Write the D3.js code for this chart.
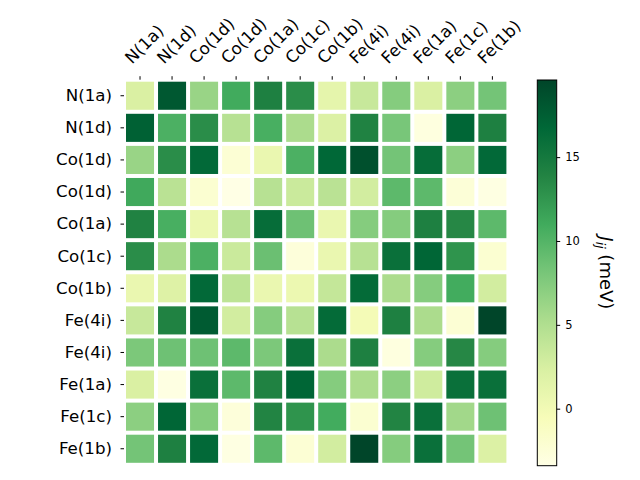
<!DOCTYPE html>
<html>
<head>
<meta charset="utf-8">
<script src="https://cdn.jsdelivr.net/npm/d3@7"></script>
<style>
  body { margin: 0; background: white; }
  text { font-family: "DejaVu Sans", sans-serif; }
</style>
</head>
<body>
<div id="chart"></div>
<script>
// Site labels (rows and columns share the same order)
const rowLabels = ["N(1a)", "N(1d)", "Co(1d)", "Co(1d)", "Co(1a)", "Co(1c)", "Co(1b)", "Fe(4i)", "Fe(4i)", "Fe(1a)", "Fe(1c)", "Fe(1b)"];
const colLabels = ["N(1a)", "N(1d)", "Co(1d)", "Co(1d)", "Co(1a)", "Co(1c)", "Co(1b)", "Fe(4i)", "Fe(4i)", "Fe(1a)", "Fe(1c)", "Fe(1b)"];

// J_ij values in meV, one array per row
const rowN1a  = [2.3, 18.0, 6.3, 11.0, 14.3, 13.2, 1.2, 3.5, 7.4, 2.3, 7.0, 8.3];
const rowN1d  = [17.3, 10.4, 13.2, 4.6, 10.6, 5.3, 2.1, 14.1, 8.1, -3.0, 16.9, 14.3];
const rowCo1d = [6.3, 13.2, 16.6, -2.3, 0.7, 10.4, 16.7, 18.7, 8.3, 16.2, 7.0, 16.6];
const rowCo1d2 = [11.1, 4.4, -2.1, -3.4, 4.6, 3.3, 4.4, 2.8, 9.5, 9.5, -2.5, -3.2];
const rowCo1a = [14.1, 10.6, 0.5, 4.6, 16.2, 8.6, 0.7, 7.4, 7.4, 14.3, 13.6, 9.5];
const rowCo1c = [13.2, 5.3, 10.4, 3.3, 8.8, -2.7, 0.7, 4.6, 15.9, 16.9, 12.7, -2.1];
const rowCo1b = [0.7, 1.9, 16.6, 4.2, 0.7, 0.5, 3.7, 16.4, 5.3, 7.4, 10.9, 2.8];
const rowFe4i = [3.5, 14.1, 17.8, 2.8, 7.4, 4.6, 16.4, -0.2, 14.3, 5.3, -2.3, 19.6];
const rowFe4i2 = [7.9, 8.6, 8.6, 9.5, 7.9, 15.9, 5.3, 14.3, -3.0, 7.4, 13.6, 7.4];
const rowFe1a = [2.3, -3.2, 15.9, 9.5, 14.1, 16.9, 7.4, 5.3, 7.0, 3.0, 15.9, 15.9];
const rowFe1c = [7.0, 16.9, 7.4, -2.7, 13.9, 12.7, 10.9, -2.1, 13.9, 15.9, 5.8, 8.6];
const rowFe1b = [8.3, 14.3, 16.6, -3.2, 9.5, -2.3, 2.8, 19.6, 7.4, 15.9, 8.3, 2.1];

const values = [rowN1a, rowN1d, rowCo1d, rowCo1d2, rowCo1a, rowCo1c, rowCo1b, rowFe4i, rowFe4i2, rowFe1a, rowFe1c, rowFe1b];
const cbarTicks = [0, 5, 10, 15];

// matplotlib YlGn colour stops
const ylgn = ["#ffffe5", "#f7fcb9", "#d9f0a3", "#addd8e", "#78c679", "#41ab5d", "#238443", "#006837", "#004529"];

const width = 640, height = 480;
const svg = d3.select("#chart").append("svg")
    .attr("width", width)
    .attr("height", height);

// flatten to cells
const cells = [];
values.forEach((row, r) => row.forEach((v, c) => cells.push({r, c, v})));

const [vmin, vmax] = d3.extent(cells, d => d.v);
const color = d3.scaleLinear()
    .domain(ylgn.map((_, i) => vmin + (vmax - vmin) * i / (ylgn.length - 1)))
    .range(ylgn);

const x = d3.scaleBand().domain(d3.range(colLabels.length)).range([124, 508.4]);
const y = d3.scaleBand().domain(d3.range(rowLabels.length)).range([79.7, 464.8]);

// heatmap cells with white gaps
const gap = 2;
svg.append("g").selectAll("rect")
    .data(cells)
    .enter().append("rect")
    .attr("x", d => x(d.c) + gap)
    .attr("y", d => y(d.r) + gap)
    .attr("width", x.bandwidth() - 2 * gap)
    .attr("height", y.bandwidth() - 2 * gap)
    .attr("fill", d => color(d.v));

// top axis with rotated labels
const xAxis = svg.append("g")
    .attr("transform", `translate(0,${y.range()[0]})`)
    .call(d3.axisTop(x).tickSize(3.5).tickFormat(i => colLabels[i]));
xAxis.select(".domain").remove();
xAxis.selectAll("text")
    .attr("x", 0).attr("y", 0).attr("dy", null)
    .style("text-anchor", "start")
    .style("font-size", "16.67px")
    .attr("transform", "translate(-8,-15) rotate(-45)");

// left axis
const yAxis = svg.append("g")
    .attr("transform", `translate(${x.range()[0]},0)`)
    .call(d3.axisLeft(y).tickSize(3.5).tickPadding(8.5).tickFormat(i => rowLabels[i]));
yAxis.select(".domain").remove();
yAxis.selectAll("text").style("font-size", "16.67px");

// colorbar
const cbX = 537.3, cbW = 19.4, cbTop = 80, cbBottom = 465.7;
const cbScale = d3.scaleLinear().domain([vmin, vmax]).range([cbBottom, cbTop]);

const grad = svg.append("defs").append("linearGradient")
    .attr("id", "cbgrad")
    .attr("x1", 0).attr("y1", 1).attr("x2", 0).attr("y2", 0);
grad.selectAll("stop")
    .data(ylgn)
    .enter().append("stop")
    .attr("offset", (d, i) => i / (ylgn.length - 1))
    .attr("stop-color", d => d);

svg.append("rect")
    .attr("x", cbX).attr("y", cbTop)
    .attr("width", cbW).attr("height", cbBottom - cbTop)
    .attr("fill", "url(#cbgrad)")
    .attr("stroke", "black")
    .attr("stroke-width", 1);

const cbAxis = svg.append("g")
    .attr("transform", `translate(${cbX + cbW},0)`)
    .call(d3.axisRight(cbScale).tickValues(cbarTicks).tickSize(3.5).tickPadding(5));
cbAxis.select(".domain").remove();
cbAxis.selectAll("text").style("font-size", "11.5px");

// colorbar label: J_ij (meV)
const cbLabel = svg.append("text")
    .attr("transform", `translate(600,${(cbTop + cbBottom) / 2}) rotate(90)`)
    .attr("text-anchor", "middle")
    .style("font-size", "18px");
cbLabel.append("tspan").style("font-style", "italic").text("J");
cbLabel.append("tspan").style("font-style", "italic").style("font-size", "12.5px").attr("dy", 4).text("ij");
cbLabel.append("tspan").attr("dy", -4).text(" (meV)");
</script>
</body>
</html>
